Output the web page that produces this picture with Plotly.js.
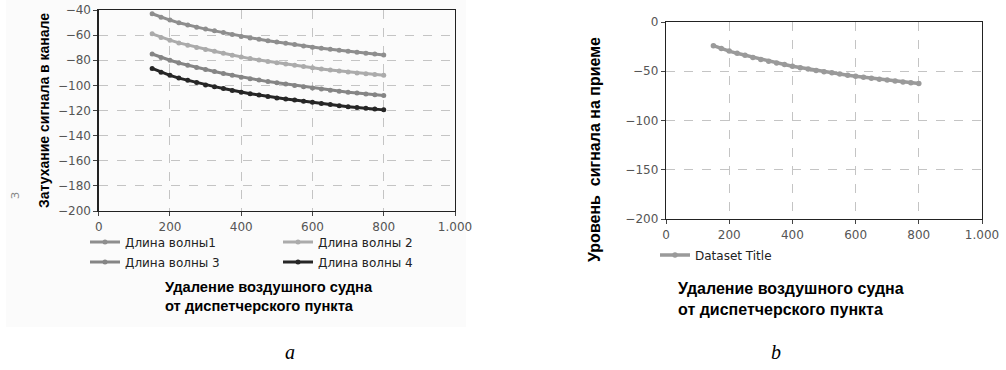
<!DOCTYPE html>
<html>
<head>
<meta charset="utf-8">
<script src="https://cdn.plot.ly/plotly-3.0.1.min.js"></script>
<style>html,body{margin:0;padding:0;background:#fff;}#chart{width:1006px;height:370px;}</style>
</head>
<body>
<div id="chart"></div>
<script>
// distances (x) for every series
const distance = [150,175,200,225,250,275,300,325,350,375,400,425,450,475,500,525,550,575,600,625,650,675,700,725,750,775,800];

// chart a — attenuation in the channel
const wave1 = [-43,-45.8,-48,-50.2,-52,-53.7,-55.2,-56.6,-58,-59.5,-61,-62.2,-63.3,-64.4,-65.5,-66.5,-67.5,-68.6,-69.6,-70.4,-71.3,-72,-72.9,-73.6,-74.4,-75.1,-75.8];
const wave2 = [-59,-61.8,-64,-66.2,-68,-69.8,-71.4,-72.9,-74.4,-76,-77.5,-78.7,-79.8,-80.9,-82,-83,-84,-85,-86,-86.9,-87.8,-88.6,-89.4,-90.1,-90.8,-91.4,-92];
const wave3 = [-75,-77.8,-80,-82.2,-84,-85.8,-87.4,-89,-90.6,-92,-93.5,-94.7,-95.8,-97,-98,-99,-100,-101,-102,-102.9,-103.8,-104.6,-105.4,-106.1,-106.8,-107.4,-108];
const wave4 = [-86.5,-89.5,-92,-94.2,-96,-97.8,-99.8,-101,-102.5,-104,-105.5,-106.6,-107.6,-108.8,-110,-110.8,-111.6,-112.6,-113.5,-114.4,-115.3,-116.2,-117,-117.6,-118.3,-118.9,-119.5];
const seriesNamesA = ["Длина волны1","Длина волны 2","Длина волны 3","Длина волны 4"];

// chart b — received signal level
const level = [-24,-27,-29.5,-31.8,-33.8,-36,-38,-39.8,-41.5,-43.2,-45,-46.4,-47.8,-49.2,-50.5,-51.6,-52.8,-54,-55,-56,-57,-58,-59,-59.9,-60.8,-61.6,-62.4];
const seriesNameB = "Dataset Title";

// tick labels
const xTickVals = [0,200,400,600,800,1000];
const xTickText = ["0","200","400","600","800","1.000"];
const yTickValsA = [-200,-180,-160,-140,-120,-100,-80,-60,-40];
const yTickValsB = [-200,-150,-100,-50,0];

const colorsA = ["#8e8e8e","#ababab","#858585","#262626"];
const colorB = "#9a9a9a";

const W = 1006, H = 370;
const px = v => v / W;
const py = v => 1 - v / H;

const seriesA = [wave1, wave2, wave3, wave4];
const legendsA = ["legend","legend","legend2","legend2"];
const traces = seriesA.map((ys, i) => ({
  x: distance, y: ys, name: seriesNamesA[i], type: "scatter", mode: "lines+markers",
  xaxis: "x", yaxis: "y", legend: legendsA[i],
  line: {color: colorsA[i], width: 3}, marker: {color: colorsA[i], size: 5}
}));
traces.push({
  x: distance, y: level, name: seriesNameB, type: "scatter", mode: "lines+markers",
  xaxis: "x2", yaxis: "y2", legend: "legend3",
  line: {color: colorB, width: 3.5}, marker: {color: colorB, size: 5.5}
});

const tickFont = {family: "DejaVu Sans", size: 12, color: "#555"};
const axisCommon = {
  showline: true, mirror: true, linecolor: "#222", linewidth: 1.3,
  ticks: "outside", ticklen: 4, tickcolor: "#444", tickwidth: 1,
  showgrid: true, gridcolor: "#c4c4c4", griddash: "dash", gridwidth: 1,
  zeroline: false, tickfont: tickFont, fixedrange: true
};

const legendCommon = {
  orientation: "h", xanchor: "left", yanchor: "middle",
  font: {family: "DejaVu Sans", size: 12, color: "#222"},
  bgcolor: "rgba(0,0,0,0)", entrywidth: 148, entrywidthmode: "pixels",
  itemwidth: 30, tracegroupgap: 0
};

const titleFontA = {family: "Liberation Sans", size: 14, color: "#000", weight: "bold"};
const titleFontAx = {family: "Liberation Sans", size: 14.7, color: "#000", weight: "bold"};
const titleFontB = {family: "Liberation Sans", size: 16, color: "#000", weight: "bold"};

const layout = {
  width: W, height: H,
  margin: {l: 0, r: 0, t: 0, b: 0},
  paper_bgcolor: "#fff", plot_bgcolor: "#fff",
  showlegend: true,
  xaxis: Object.assign({}, axisCommon, {domain: [px(98.7), px(455)], range: [0, 1000], tickvals: xTickVals, ticktext: xTickText, anchor: "y"}),
  yaxis: Object.assign({}, axisCommon, {domain: [py(211), py(10)], range: [-200, -40], tickvals: yTickValsA, anchor: "x"}),
  xaxis2: Object.assign({}, axisCommon, {domain: [px(666), px(982)], range: [0, 1000], tickvals: xTickVals, ticktext: xTickText, anchor: "y2"}),
  yaxis2: Object.assign({}, axisCommon, {domain: [py(219), py(22)], range: [-200, 0], tickvals: yTickValsB, anchor: "x2"}),
  legend: Object.assign({}, legendCommon, {x: px(85), y: py(242)}),
  legend2: Object.assign({}, legendCommon, {x: px(85), y: py(262)}),
  legend3: Object.assign({}, legendCommon, {x: px(655), y: py(255)}),
  shapes: [
    {type: "rect", xref: "paper", yref: "paper", x0: px(6), x1: px(466), y0: py(327), y1: py(0), fillcolor: "#fbfbfb", line: {width: 0}, layer: "below"}
  ],
  annotations: [
    {xref: "paper", yref: "paper", x: px(44), y: py(111), text: "Затухание сигнала в канале", textangle: -90, showarrow: false, font: titleFontA, xanchor: "center", yanchor: "middle"},
    {xref: "paper", yref: "paper", x: px(16), y: py(195), text: "З", textangle: -90, showarrow: false, font: {family: "DejaVu Sans", size: 11, color: "#888"}, xanchor: "center", yanchor: "middle"},
    {xref: "paper", yref: "paper", x: px(163), y: py(277), text: "Удаление воздушного судна<br>от диспетчерского пункта", showarrow: false, font: titleFontAx, xanchor: "left", yanchor: "top", align: "left"},
    {xref: "paper", yref: "paper", x: px(594), y: py(150), text: "Уровень  сигнала на приеме", textangle: -90, showarrow: false, font: titleFontB, xanchor: "center", yanchor: "middle"},
    {xref: "paper", yref: "paper", x: px(676), y: py(278), text: "Удаление воздушного судна<br>от диспетчерского пункта", showarrow: false, font: titleFontB, xanchor: "left", yanchor: "top", align: "left"},
    {xref: "paper", yref: "paper", x: px(290), y: py(352), text: "a", showarrow: false, font: {family: "Liberation Serif", size: 20, color: "#000", style: "italic"}, xanchor: "center", yanchor: "middle"},
    {xref: "paper", yref: "paper", x: px(776), y: py(352), text: "b", showarrow: false, font: {family: "Liberation Serif", size: 20, color: "#000", style: "italic"}, xanchor: "center", yanchor: "middle"}
  ]
};

Plotly.newPlot("chart", traces, layout, {staticPlot: true, displayModeBar: false});
</script>
</body>
</html>
